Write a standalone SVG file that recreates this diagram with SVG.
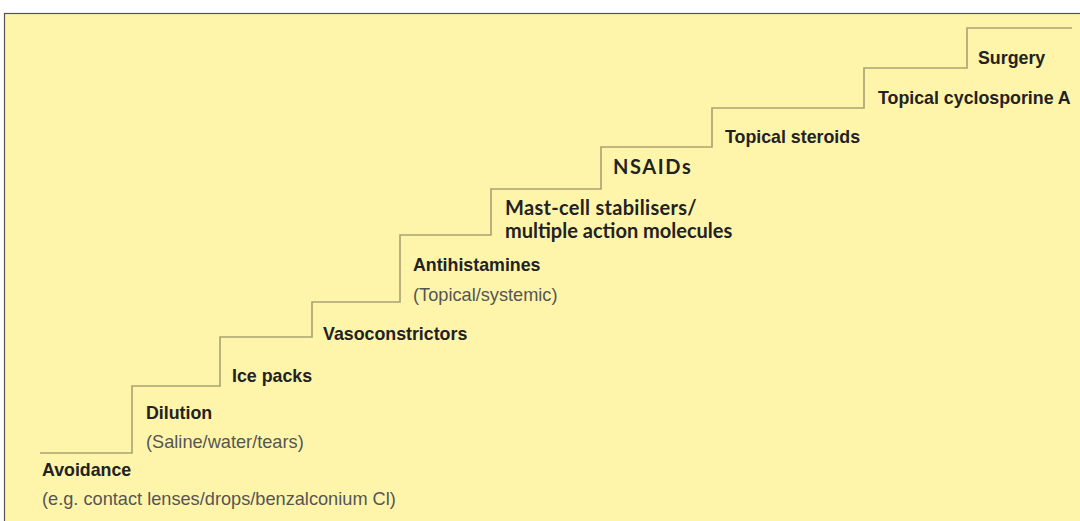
<svg xmlns="http://www.w3.org/2000/svg" width="1080" height="521" viewBox="0 0 1080 521">
<style>
.b{font-family:"Liberation Sans",Arial,sans-serif;font-weight:bold;font-size:17.8px;fill:#222}
.r{font-family:"Liberation Sans",Arial,sans-serif;font-size:18.2px;fill:#555}
.g{font-family:Lato,"Liberation Sans",sans-serif;font-weight:bold;font-size:20px;fill:#222}
.step{fill:none;stroke:#a9a272;stroke-width:1.6}
</style>
<rect x="0" y="0" width="1080" height="521" fill="#ffffff"/>
<rect x="4.5" y="13.5" width="1080" height="520" fill="#fef5ab" stroke="#555" stroke-width="1.2"/>
<g id="connectors">
<path class="step" d="M40,453 H132 V386 H220 V337 H312 V302 H400 V235 H491 V189 H601 V147 H712 V108 H864 V68 H967 V28 H1072"/>
</g>
<g id="avoidance"><text class="b" x="42" y="476">Avoidance</text><text class="r" x="42" y="505">(e.g. contact lenses/drops/benzalconium Cl)</text></g>
<g id="dilution"><text class="b" x="146" y="419">Dilution</text><text class="r" x="146" y="448">(Saline/water/tears)</text></g>
<g id="icepacks"><text class="b" x="232" y="382">Ice packs</text></g>
<g id="vasoconstrictors"><text class="b" x="323" y="340">Vasoconstrictors</text></g>
<g id="antihistamines"><text class="b" x="413" y="271">Antihistamines</text><text class="r" x="413" y="301">(Topical/systemic)</text></g>
<g id="mastcell"><text class="g" x="505" y="215" letter-spacing="0.3">Mast-cell stabilisers/</text><text class="g" x="505" y="238">multiple action molecules</text></g>
<g id="nsaids"><text class="g" x="613" y="174" letter-spacing="1.6">NSAIDs</text></g>
<g id="steroids"><text class="b" x="725" y="143">Topical steroids</text></g>
<g id="cyclosporine"><text class="b" x="878" y="104">Topical cyclosporine A</text></g>
<g id="surgery"><text class="b" x="978" y="64">Surgery</text></g>
</svg>
